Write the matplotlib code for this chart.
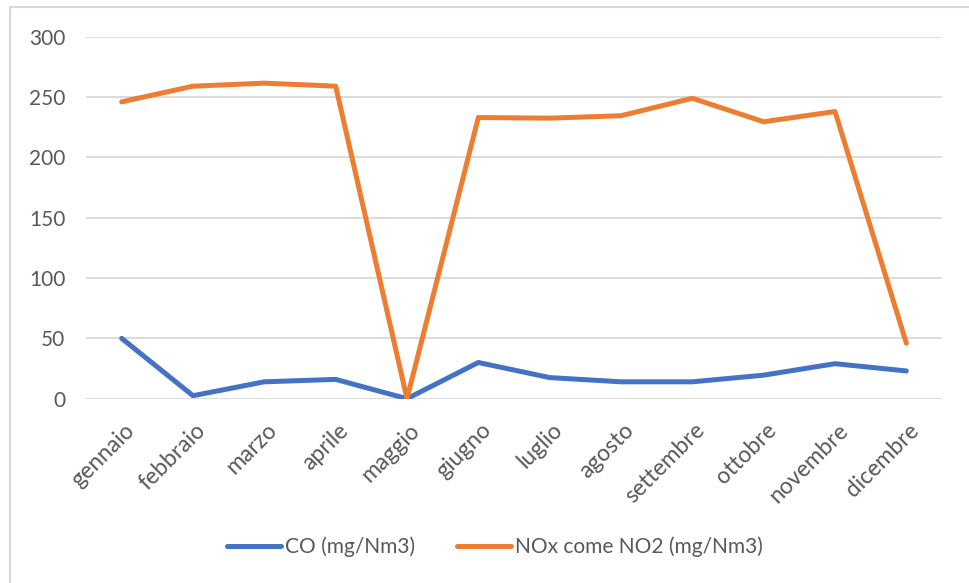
import matplotlib.pyplot as plt
from matplotlib.patches import Rectangle
from matplotlib.transforms import ScaledTranslation

# --- Dati ---
mesi = ["gennaio", "febbraio", "marzo", "aprile", "maggio", "giugno",
        "luglio", "agosto", "settembre", "ottobre", "novembre", "dicembre"]
co = [50, 2.5, 14, 16, 0, 30, 17.5, 14, 14, 19.5, 29, 23]
nox = [246, 259, 261.5, 259, 0, 233, 232.5, 234.5, 249, 229.5, 238, 46]
yticks = [0, 50, 100, 150, 200, 250, 300]

plt.rcParams['font.family'] = ['Lato', 'DejaVu Sans']

fig = plt.figure(figsize=(9.7, 5.83), dpi=100)
ax = fig.add_axes([86 / 970, 1 - 398.7 / 583, (942 - 86) / 970, (398.7 - 36.7) / 583])

# --- Bordo del grafico ---
fig.patches.append(Rectangle((10 / 970, -0.05), 1.1, 1 - 7 / 583 + 0.05,
                             transform=fig.transFigure, fill=False,
                             edgecolor='#D9D9D9', linewidth=1.5))

x = range(len(mesi))
ax.plot(x, co, color='#4472C4', linewidth=3.6, solid_capstyle='round',
        solid_joinstyle='round', label='CO (mg/Nm3)', zorder=3)
ax.plot(x, nox, color='#ED7D31', linewidth=3.6, solid_capstyle='round',
        solid_joinstyle='round', label='NOx come NO2 (mg/Nm3)', zorder=3)

ax.set_xlim(-0.5, len(mesi) - 0.5)
ax.set_ylim(0, 300)
ax.set_yticks(yticks)
ax.set_xticks(list(x))
ax.set_xticklabels(mesi, rotation=45, ha='right', va='top', rotation_mode='anchor')
ax.tick_params(axis='both', length=0, colors='#595959', labelsize=15)
ax.tick_params(axis='x', pad=15, labelsize=16.5)
ax.tick_params(axis='y', pad=15)
# sposta leggermente a destra le etichette ruotate
for lab in ax.get_xticklabels():
    lab.set_transform(lab.get_transform() + ScaledTranslation(2 / 100, 0, fig.dpi_scale_trans))

ax.grid(axis='y', color='#D9D9D9', linewidth=1.3)
ax.set_axisbelow(True)
for s in ax.spines.values():
    s.set_visible(False)

leg = fig.legend(loc='center', bbox_to_anchor=(495 / 970, 1 - 547 / 583), ncol=2,
                 frameon=False, fontsize=15, handlelength=2.6, handletextpad=0.2,
                 columnspacing=2.0)
for t in leg.get_texts():
    t.set_color('#595959')

fig.savefig('out.png', dpi=100)
